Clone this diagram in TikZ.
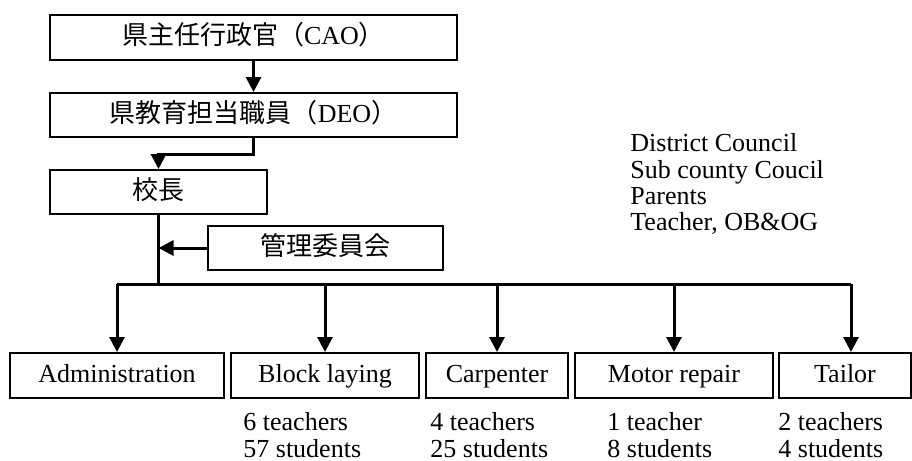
\documentclass[tikz,border=0pt]{standalone}
\usepackage{fontspec}
\setmainfont{Liberation Serif}
\newfontfamily\cjk{Noto Sans CJK JP}
\usetikzlibrary{arrows.meta}
\tikzset{
  orgbox/.style={draw, line width=1pt, inner sep=0pt, text height=9.5pt, text depth=2.5pt,
    font=\fontsize{13}{15}\selectfont},
  link/.style={line width=1.5pt},
  arr/.style={link, -{Triangle[length=7.5pt,width=7.5pt]}},
  note/.style={anchor=base west, inner sep=0pt, font=\fontsize{13}{15}\selectfont}
}
\begin{document}
\begin{tikzpicture}[x=0.5pt, y=-0.5pt]
\useasboundingbox (0,0) rectangle (912,461);

% management chain
\node[orgbox, minimum width=203.5pt, minimum height=22.5pt] (cao) at (253.5,37.5)
  {{\cjk 県主任行政官（}CAO{\cjk ）}};
\node[orgbox, minimum width=203.5pt, minimum height=22pt] (deo) at (253.5,115)
  {{\cjk 県教育担当職員（}DEO{\cjk ）}};
\node[orgbox, minimum width=108.5pt, minimum height=22pt] (head) at (158.5,192)
  {\cjk 校長};
\node[orgbox, minimum width=117.5pt, minimum height=22pt] (board) at (325.5,248)
  {\cjk 管理委員会};

% departments
\node[orgbox, minimum width=107pt, minimum height=22.5pt] (admin) at (117,375.5) {Administration};
\node[orgbox, minimum width=94pt, minimum height=22.5pt] (block) at (325,375.5) {Block laying};
\node[orgbox, minimum width=71pt, minimum height=22.5pt] (carp) at (497,375.5) {Carpenter};
\node[orgbox, minimum width=99pt, minimum height=22.5pt] (motor) at (674,375.5) {Motor repair};
\node[orgbox, minimum width=66pt, minimum height=22.5pt] (tailor) at (845,375.5) {Tailor};

% board membership
\node[note] (m1) at (630,151) {District Council};
\node[note] (m2) at (630,178) {Sub county Coucil};
\node[note] (m3) at (630,204) {Parents};
\node[note] (m4) at (630,230) {Teacher, OB\&OG};

% staff and enrolment
\node[note] (b1) at (243,430) {6 teachers};
\node[note] (b2) at (243,457) {57 students};
\node[note] (c1) at (430,430) {4 teachers};
\node[note] (c2) at (430,457) {25 students};
\node[note] (r1) at (607,430) {1 teacher};
\node[note] (r2) at (607,457) {8 students};
\node[note] (t1) at (778,430) {2 teachers};
\node[note] (t2) at (778,457) {4 students};

% connectors
\coordinate (junction) at (158.5,284);
\draw[arr] (cao.south) -- (deo.north);
\draw[arr] (deo.south) -- ++(0,16) -| (head.north);
\draw[link] (head.south) -- (junction);
\draw[arr] (board.west) -- (head.south |- board.west);
\draw[link] (117,284) -- (851,284);
\draw[arr] (117,284) -- (admin.north);
\draw[arr] (325,284) -- (block.north);
\draw[arr] (497,284) -- (carp.north);
\draw[arr] (674,284) -- (motor.north);
\draw[arr] (851,284) -- (851,0 |- tailor.north);
\end{tikzpicture}
\end{document}
